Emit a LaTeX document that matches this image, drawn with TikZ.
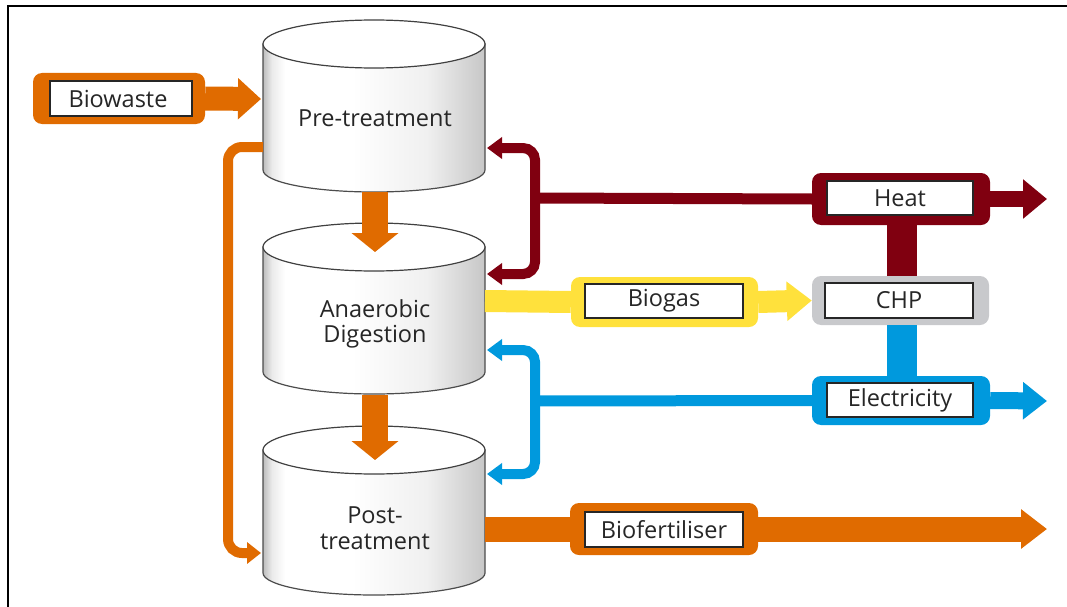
\documentclass[tikz,border=0pt]{standalone}
\usepackage{fontspec}
\setmainfont{Open Sans}
\usetikzlibrary{arrows.meta}
\definecolor{org}{RGB}{224,107,0}
\definecolor{mar}{RGB}{128,0,16}
\definecolor{yel}{RGB}{255,225,60}
\definecolor{blu}{RGB}{0,153,221}
\definecolor{gry}{RGB}{200,201,204}
\pgfdeclarehorizontalshading{cylsh}{100bp}{color(0bp)=(black!26); color(25bp)=(black!26); color(27bp)=(black!8); color(30bp)=(white); color(45bp)=(white); color(62bp)=(black!6); color(75bp)=(black!22); color(100bp)=(black!22)}
\newcommand{\drawcyl}[2]{%
  \path[draw=black!70, line width=1.2, shading=cylsh]
    (263,#1) -- (263,#2) arc[start angle=180, end angle=0, x radius=111, y radius=22] -- (485,#1) -- cycle;
  \draw[black!75, line width=1.2, fill=white] (374,#1) ellipse[x radius=111, y radius=24];
}
\tikzset{
  x=1pt, y=-1pt,
  lbl/.style={font=\fontsize{23.5}{25.5}\selectfont, text=black!85},
  obox/.style={rounded corners=9, inner sep=0, draw=none},
  ibox/.style={draw=black!85, line width=1.6, fill=white, inner sep=0, lbl},
}
\begin{document}
\begin{tikzpicture}
\useasboundingbox (0,0) rectangle (1067,607);
\draw[line width=2.2] (1067,6) -- (8,6) -- (8,607);

% cylinders
\drawcyl{44}{170}
\drawcyl{247}{372}
\drawcyl{450}{573}
\node[lbl] (pre) at (375,118) {Pre-treatment};
\node[lbl, align=center] (ad) at (375,324) {Anaerobic\\Digestion};
\node[lbl, align=center] (post) at (375,528) {Post-\\treatment};

\coordinate (preBot) at (375,192);
\coordinate (adTop) at (375,252);
\coordinate (adBot) at (375,395);
\coordinate (postTop) at (375,460);
\coordinate (preW) at (261,99);
\coordinate (preByp) at (263,147);
\coordinate (postW) at (261,553);
\coordinate (preE) at (487,148);
\coordinate (adE1) at (487,274);
\coordinate (adE2) at (487,350);
\coordinate (postE) at (487,474);
\coordinate (adR) at (485,301);
\coordinate (postR) at (485,529);
\coordinate (hj) at (535,198);
\coordinate (ej) at (535,401);

% boxes
\node[obox, fill=org, minimum width=172, minimum height=51] (bwO) at (119,98.5) {};
\node[ibox, minimum width=142, minimum height=35] (bw) at (121,98.5) {\makebox[0pt]{\hspace{-6pt}Biowaste}};

\node[obox, fill=mar, minimum width=178, minimum height=52] (heatO) at (901,199) {};
\node[ibox, minimum width=146, minimum height=34] (heat) at (900,198) {Heat};

\node[obox, fill=gry, minimum width=177, minimum height=49] (chpO) at (900.5,300.5) {};
\node[ibox, minimum width=148, minimum height=35] (chp) at (899,300.5) {CHP};

\node[obox, fill=blu, minimum width=178, minimum height=49] (elO) at (901,400.5) {};
\node[ibox, minimum width=146, minimum height=34] (el) at (900,400) {Electricity};

\node[obox, fill=yel, minimum width=187, minimum height=50] (bgO) at (664.5,302) {};
\node[ibox, minimum width=158, minimum height=34] (bg) at (664,301) {Biogas};

\node[obox, fill=org, minimum width=188, minimum height=52] (bfO) at (664,529) {};
\node[ibox, minimum width=158, minimum height=35] (bf) at (664,529.5) {Biofertiliser};

\coordinate (heatEnd) at (1047,199);
\coordinate (elEnd) at (1047,401);
\coordinate (bfEnd) at (1047,529);

% connectors
\draw[org, line width=24, -{Triangle[width=40,length=23]}] (bwO.east) -- (preW);
\draw[org, line width=26, -{Triangle[width=46,length=19]}] (preBot) -- (adTop);
\draw[org, line width=26, -{Triangle[width=46,length=19]}] (adBot) -- (postTop);
\draw[org, line width=10, rounded corners=14, -{Triangle[width=21,length=14]}]
  (preByp) -- (228,147) -- (228,553) -- (postW);

\draw[yel, line width=22] (adR) -- (bgO.west);
\draw[yel, line width=22, -{Triangle[width=38,length=25]}] (bgO.east) -- (chpO.west);

\draw[mar, line width=11] (heatO.west) -- (hj);
\draw[mar, line width=10, rounded corners=12, {Triangle[width=21,length=15]}-{Triangle[width=21,length=15]}]
  (preE) -- (535,148) -- (535,274) -- (adE1);
\draw[mar, line width=16, -{Triangle[width=38,length=24]}] (heatO.east) -- (heatEnd);
\draw[mar, line width=30] (902,225) -- (902,276);

\draw[blu, line width=30] (902,325) -- (902,376);
\draw[blu, line width=11] (elO.west) -- (ej);
\draw[blu, line width=10, rounded corners=12, {Triangle[width=21,length=15]}-{Triangle[width=21,length=15]}]
  (adE2) -- (535,350) -- (535,474) -- (postE);
\draw[blu, line width=17, -{Triangle[width=36,length=24]}] (elO.east) -- (elEnd);

\draw[org, line width=25] (postR) -- (bfO.west);
\draw[org, line width=25, -{Triangle[width=38,length=26]}] (bfO.east) -- (bfEnd);
\end{tikzpicture}
\end{document}
